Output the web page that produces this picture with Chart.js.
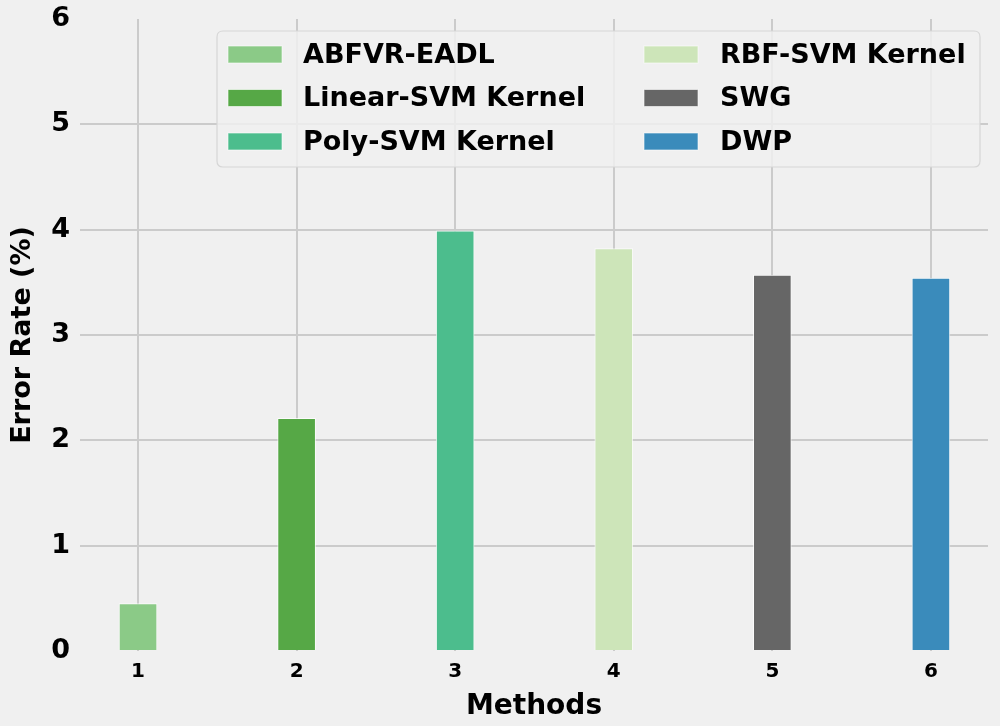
<!DOCTYPE html>
<html>
<head>
<meta charset="utf-8">
<script src="https://cdn.jsdelivr.net/npm/chart.js@4/dist/chart.umd.min.js"></script>
<style>
  html, body { margin: 0; padding: 0; background: #f0f0f0; }
  #wrap { width: 1000px; height: 726px; position: relative; }
</style>
</head>
<body>
<div id="wrap"><canvas id="c"></canvas></div>
<script>
// ---- data ----
const methods = ['ABFVR-EADL', 'Linear-SVM Kernel', 'Poly-SVM Kernel', 'RBF-SVM Kernel', 'SWG', 'DWP'];
const methodPositions = [1, 2, 3, 4, 5, 6];
const errorRates = [0.45, 2.21, 3.99, 3.82, 3.57, 3.54];
const xTickLabels = ['1', '2', '3', '4', '5', '6'];
const yTickValues = [0, 1, 2, 3, 4, 5, 6];
const barColors = ['#8bca87', '#56a846', '#4cbd8d', '#cde5b9', '#666666', '#3a8bbb'];

const FONT = "'DejaVu Sans', sans-serif";

const datasets = methods.map((m, i) => ({
  label: m,
  data: [{ x: methodPositions[i], y: errorRates[i] }],
  backgroundColor: barColors[i],
  borderColor: 'rgba(255,255,255,0.7)',
  borderWidth: 1,
  barThickness: 38,
  grouped: false
}));

const bgPlugin = {
  id: 'bg',
  beforeDraw(chart) {
    const ctx = chart.ctx;
    ctx.save();
    ctx.fillStyle = '#f0f0f0';
    ctx.fillRect(0, 0, chart.width, chart.height);
    ctx.restore();
  }
};

function roundRect(ctx, x, y, w, h, r) {
  ctx.beginPath();
  ctx.moveTo(x + r, y);
  ctx.lineTo(x + w - r, y);
  ctx.quadraticCurveTo(x + w, y, x + w, y + r);
  ctx.lineTo(x + w, y + h - r);
  ctx.quadraticCurveTo(x + w, y + h, x + w - r, y + h);
  ctx.lineTo(x + r, y + h);
  ctx.quadraticCurveTo(x, y + h, x, y + h - r);
  ctx.lineTo(x, y + r);
  ctx.quadraticCurveTo(x, y, x + r, y);
  ctx.closePath();
}

const legendPlugin = {
  id: 'twoColLegend',
  afterDatasetsDraw(chart) {
    const ctx = chart.ctx;
    ctx.save();
    roundRect(ctx, 217, 31, 763, 136, 6);
    ctx.fillStyle = 'rgba(240,240,240,0.85)';
    ctx.fill();
    ctx.strokeStyle = '#d6d6d6';
    ctx.lineWidth = 1.2;
    ctx.stroke();
    const rowY = [54.5, 98, 141.5];
    const colSwatchX = [228, 644];
    const colTextX = [303, 720];
    ctx.font = "bold 27px " + FONT;
    ctx.textBaseline = 'middle';
    ctx.textAlign = 'left';
    chart.data.datasets.forEach((ds, i) => {
      const col = Math.floor(i / 3), row = i % 3;
      const y = rowY[row];
      ctx.fillStyle = ds.backgroundColor;
      ctx.fillRect(colSwatchX[col], y - 8.5, 54, 17);
      ctx.strokeStyle = 'rgba(255,255,255,0.6)';
      ctx.lineWidth = 1;
      ctx.strokeRect(colSwatchX[col], y - 8.5, 54, 17);
      ctx.fillStyle = '#000';
      ctx.fillText(ds.label, colTextX[col], y + 1);
    });
    ctx.restore();
  }
};

new Chart(document.getElementById('c'), {
  type: 'bar',
  data: { datasets },
  plugins: [bgPlugin, legendPlugin],
  options: {
    responsive: true,
    maintainAspectRatio: false,
    animation: false,
    devicePixelRatio: 1,
    layout: { padding: { top: 19, right: 12, left: 0, bottom: 0 } },
    plugins: { legend: { display: false }, tooltip: { enabled: false } },
    scales: {
      x: {
        type: 'linear',
        min: 0.634,
        max: 6.36,
        offset: false,
        afterBuildTicks: (scale) => { scale.ticks = methodPositions.map(v => ({ value: v })); },
        afterFit: (scale) => { scale.height = 75; scale.paddingLeft = 0; scale.paddingRight = 0; },
        ticks: {
          callback: (v) => xTickLabels[methodPositions.indexOf(v)],
          font: { family: FONT, size: 20, weight: 'bold' },
          color: '#000',
          padding: 9,
          maxRotation: 0,
          autoSkip: false
        },
        grid: { color: '#cbcbcb', lineWidth: 2, drawTicks: false, offset: false },
        border: { display: false },
        title: {
          display: true,
          text: 'Methods',
          font: { family: FONT, size: 28, weight: 'bold' },
          color: '#000',
          padding: { top: 0, bottom: 2 }
        }
      },
      y: {
        min: 0,
        max: 6,
        afterBuildTicks: (scale) => { scale.ticks = yTickValues.map(v => ({ value: v })); },
        afterFit: (scale) => { scale.width = 80; scale.paddingTop = 0; scale.paddingBottom = 0; },
        ticks: {
          font: { family: FONT, size: 27, weight: 'bold' },
          color: '#000',
          padding: 10
        },
        grid: {
          color: (c) => (c.tick && (c.tick.value === 0 || c.tick.value === 6)) ? 'rgba(0,0,0,0)' : '#cbcbcb',
          lineWidth: 2,
          drawTicks: false
        },
        border: { display: false },
        title: {
          display: true,
          text: 'Error Rate (%)',
          font: { family: FONT, size: 27, weight: 'bold' },
          color: '#000',
          padding: { top: 7, bottom: 0 }
        }
      }
    }
  }
});
</script>
</body>
</html>
